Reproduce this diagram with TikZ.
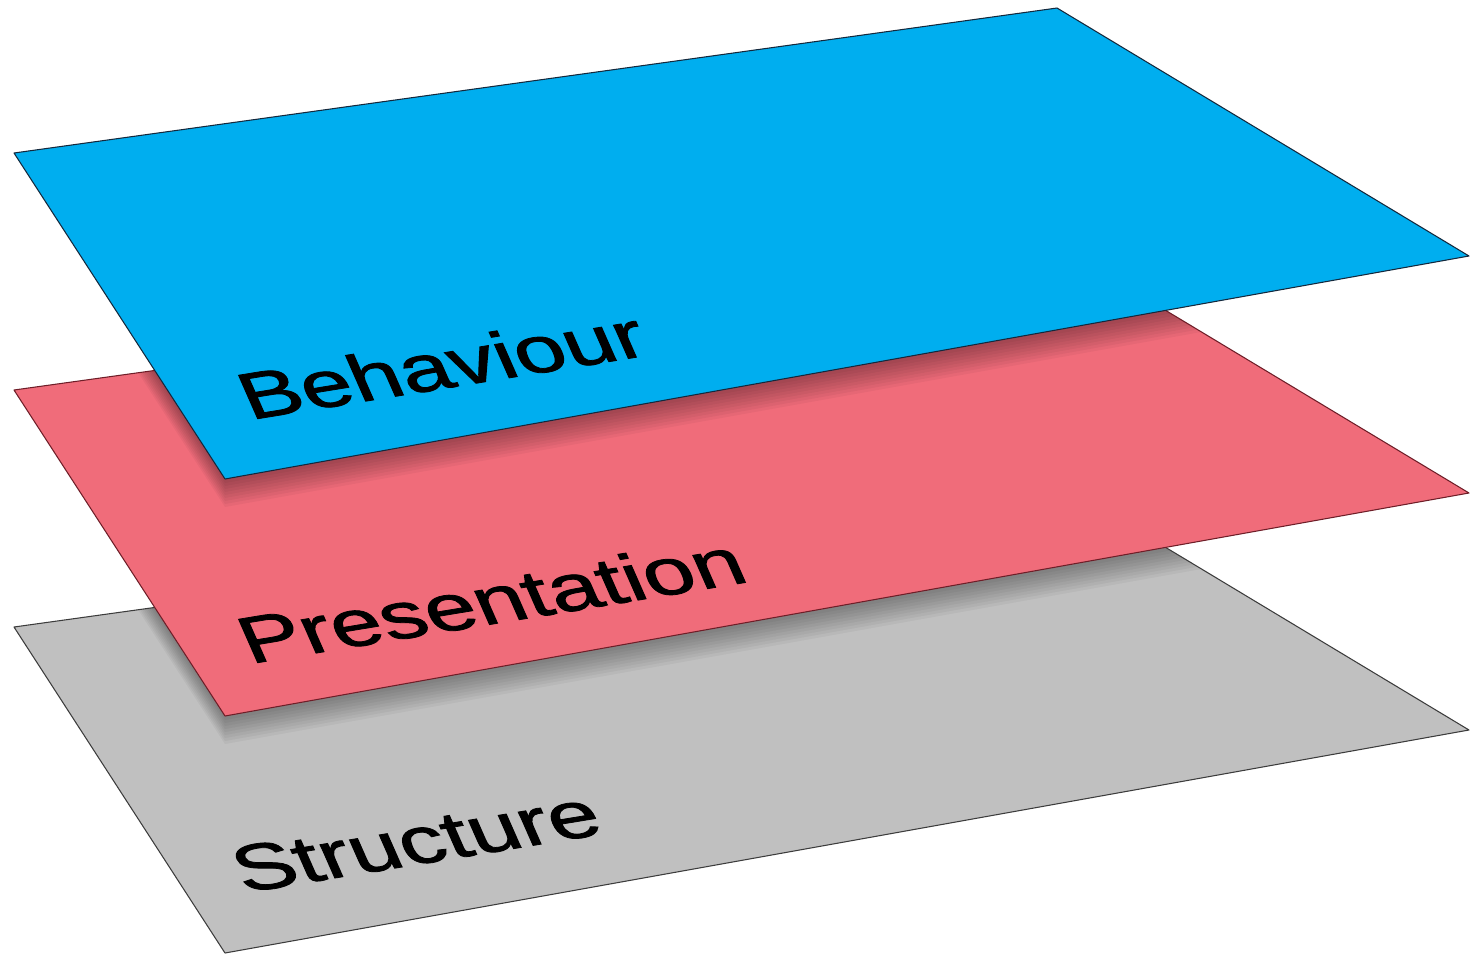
\documentclass[tikz,border=0pt]{standalone}
\usepackage{fontspec}
\setmainfont{Liberation Sans}
\newfontfamily\lblfont[FakeBold=1.2]{Liberation Sans}
\definecolor{blueP}{RGB}{0,174,239}
\definecolor{redP}{RGB}{240,108,122}
\definecolor{grayP}{RGB}{192,192,192}
\definecolor{blueE}{RGB}{20,40,60}
\definecolor{redE}{RGB}{110,30,40}
\definecolor{grayE}{RGB}{60,60,60}
\newcommand\bluepath{(14,153) -- (1057,8) -- (1469,256) -- (225,479) -- cycle}
\newcommand\redpath{(14,390) -- (1057,245) -- (1469,493) -- (225,716) -- cycle}
\newcommand\graypath{(14,627) -- (1057,482) -- (1469,730) -- (225,953) -- cycle}
\tikzset{
  plane/.style={line width=0.6pt, line join=round},
  lbl/.style={font=\lblfont\fontsize{36}{40}\selectfont, inner sep=0pt, anchor=base west, transform shape, text=black},
  shade layer/.style={fill=black, opacity=0.038}
}
\begin{document}
\begin{tikzpicture}[x=0.02cm,y=-0.02cm]
\useasboundingbox (0,0) rectangle (1470,954);
% gray plane
\fill[grayP] \graypath;
\begin{scope}
  \clip \graypath;
  \foreach \s in {4,7,...,30} {\fill[shade layer, shift={(0,\s)}] \redpath;}
\end{scope}
\draw[plane, grayE] \graypath;
% red plane
\fill[redP] \redpath;
\begin{scope}
  \clip \redpath;
  \foreach \s in {4,7,...,30} {\fill[shade layer, shift={(0,\s)}] \bluepath;}
\end{scope}
\draw[plane, redE] \redpath;
% blue plane
\fill[blueP] \bluepath;
\draw[plane, blueE] \bluepath;
% labels
\begin{scope}[shift={(250,420)}, cm={1.41,0.229,-0.44,1,(0,0)}]
  \node[lbl] (beh) at (0,0) {Behaviour};
\end{scope}
\begin{scope}[shift={(250,664)}, cm={1.41,0.232,-0.44,1,(0,0)}]
  \node[lbl] (pres) at (0,0) {Presentation};
\end{scope}
\begin{scope}[shift={(244,893)}, cm={1.41,0.232,-0.44,1,(0,0)}]
  \node[lbl] (struc) at (0,0) {Structure};
\end{scope}
\end{tikzpicture}
\end{document}
